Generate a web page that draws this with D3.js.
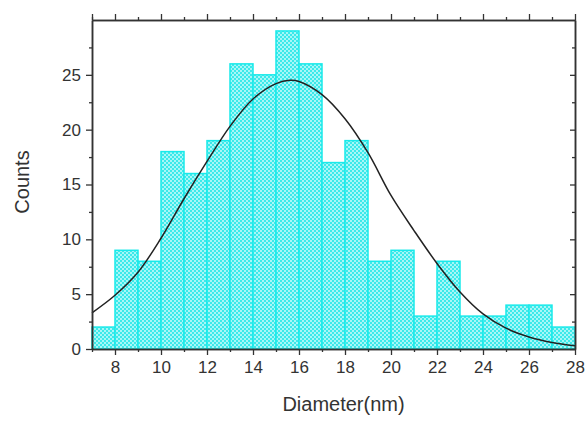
<!DOCTYPE html>
<html>
<head>
<meta charset="utf-8">
<script src="https://cdn.jsdelivr.net/npm/d3@7"></script>
<style>
  body { margin: 0; background: #fff; }
  svg text { font-family: Arial, "Liberation Sans", sans-serif; fill: #333; }
</style>
</head>
<body>
<div id="chart"></div>
<script>
// histogram bins (left edge, 1 nm wide) and counts
const binStarts = [7, 8, 9, 10, 11, 12, 13, 14, 15, 16, 17, 18, 19, 20, 21, 22, 23, 24, 25, 26, 27];
const counts    = [2, 9, 8, 18, 16, 19, 26, 25, 29, 26, 17, 19, 8, 9, 3, 8, 3, 3, 4, 4, 2];

// fitted curve, points
const fitX = [7, 8, 9, 10, 11, 12, 13, 14, 15, 15.6, 16, 17, 18, 19, 20, 21, 22, 23, 24, 25, 26, 27, 28];
const fitY = [3.3, 4.9, 7.0, 10.1, 13.7, 17.1, 20.3, 22.8, 24.2, 24.5, 24.4, 23.2, 21.0, 17.9, 14.0, 10.8, 7.8, 5.2, 3.2, 1.9, 1.1, 0.6, 0.3];

const xTicks = [8, 10, 12, 14, 16, 18, 20, 22, 24, 26, 28];
const yTicks = [0, 5, 10, 15, 20, 25];

const W = 587, H = 421;
const margin = {top: 20, right: 12, bottom: 72, left: 92};
const width = W - margin.left - margin.right;
const height = H - margin.top - margin.bottom;

const svg = d3.select("#chart").append("svg")
  .attr("width", W).attr("height", H);

// fine checkered cyan fill
const defs = svg.append("defs");
const pat = defs.append("pattern")
  .attr("id", "mesh").attr("patternUnits", "userSpaceOnUse")
  .attr("width", 4).attr("height", 4);
pat.append("rect").attr("width", 4).attr("height", 4).attr("fill", "#a6f7f7");
pat.append("rect").attr("width", 2).attr("height", 2).attr("fill", "#3be9ea");
pat.append("rect").attr("x", 2).attr("y", 2).attr("width", 2).attr("height", 2).attr("fill", "#3be9ea");

const g = svg.append("g").attr("transform", `translate(${margin.left},${margin.top})`);

const x = d3.scaleLinear().domain([7, 28]).range([0, width]);
const y = d3.scaleLinear().domain([0, 30]).range([height, 0]);

// bars
g.selectAll("rect.bar")
  .data(binStarts.map((b, i) => ({b: b, c: counts[i]})))
  .join("rect")
    .attr("class", "bar")
    .attr("x", d => x(d.b))
    .attr("y", d => y(d.c))
    .attr("width", d => x(d.b + 1) - x(d.b))
    .attr("height", d => y(0) - y(d.c))
    .attr("fill", "url(#mesh)")
    .attr("stroke", "#18eaea")
    .attr("stroke-width", 1.5);

// fit curve
const line = d3.line()
  .x(d => x(d[0]))
  .y(d => y(d[1]))
  .curve(d3.curveCatmullRom);

g.append("path")
  .datum(fitX.map((v, i) => [v, fitY[i]]))
  .attr("fill", "none")
  .attr("stroke", "#222")
  .attr("stroke-width", 1.5)
  .attr("d", line);

// axes
const axisColor = "#333";
const minorX = d3.range(7, 29, 1).filter(v => v % 2 !== 0);
const minorY = d3.range(2.5, 30, 5);

function styleAxis(sel) {
  sel.select(".domain").attr("stroke", axisColor).attr("stroke-width", 1.5);
  sel.selectAll(".tick line").attr("stroke", axisColor).attr("stroke-width", 1.3);
  sel.selectAll(".tick text").style("font-size", "17px").attr("fill", "#333");
}

// bottom
g.append("g").attr("transform", `translate(0,${height})`)
  .call(d3.axisBottom(x).tickValues(xTicks).tickSize(6).tickPadding(6).tickSizeOuter(0))
  .call(styleAxis);
g.append("g").attr("transform", `translate(0,${height})`)
  .call(d3.axisBottom(x).tickValues(minorX).tickSize(3).tickFormat("").tickSizeOuter(0))
  .call(styleAxis);

// left
g.append("g")
  .call(d3.axisLeft(y).tickValues(yTicks).tickSize(6).tickPadding(5).tickSizeOuter(0))
  .call(styleAxis);
g.append("g")
  .call(d3.axisLeft(y).tickValues(minorY).tickSize(3).tickFormat("").tickSizeOuter(0))
  .call(styleAxis);

// top (ticks outward, no labels)
g.append("g")
  .call(d3.axisTop(x).tickValues(xTicks.concat([7])).tickSize(6).tickFormat("").tickSizeOuter(0))
  .call(styleAxis);
g.append("g")
  .call(d3.axisTop(x).tickValues(minorX).tickSize(3).tickFormat("").tickSizeOuter(0))
  .call(styleAxis);

// right (ticks inward, no labels)
g.append("g").attr("transform", `translate(${width},0)`)
  .call(d3.axisLeft(y).tickValues(yTicks).tickSize(5).tickFormat("").tickSizeOuter(0))
  .call(styleAxis);
g.append("g").attr("transform", `translate(${width},0)`)
  .call(d3.axisLeft(y).tickValues(minorY).tickSize(3).tickFormat("").tickSizeOuter(0))
  .call(styleAxis);

// axis titles
svg.append("text")
  .attr("x", margin.left + width / 2 + 10)
  .attr("y", 411)
  .attr("text-anchor", "middle")
  .style("font-size", "20px")
  .text("Diameter(nm)");

svg.append("text")
  .attr("transform", `translate(29,182) rotate(-90)`)
  .attr("text-anchor", "middle")
  .style("font-size", "20px")
  .text("Counts");
</script>
</body>
</html>
